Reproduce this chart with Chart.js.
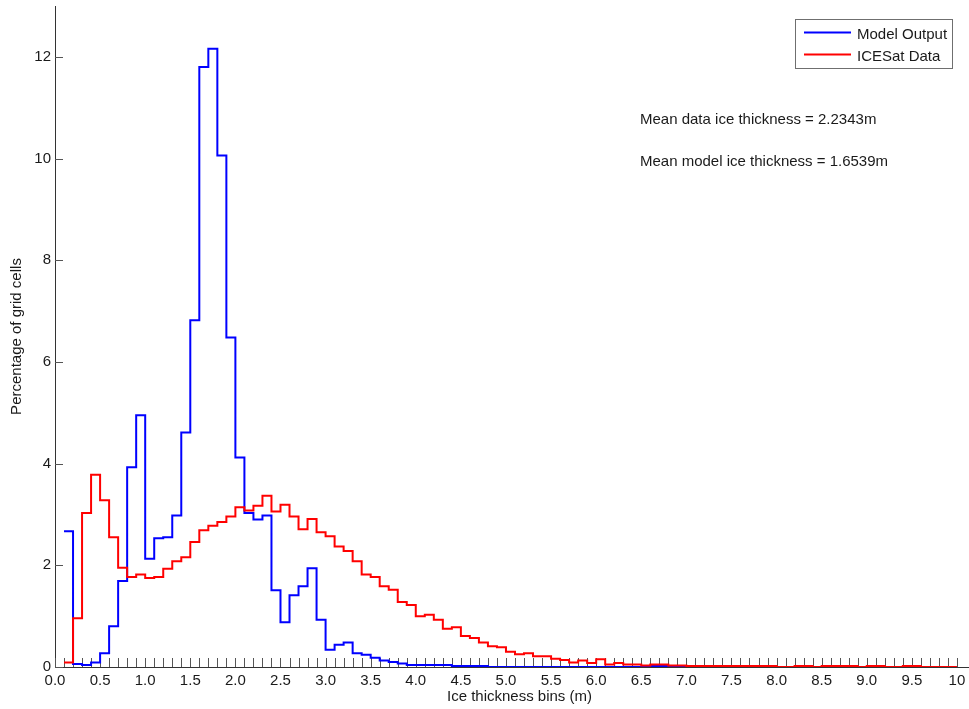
<!DOCTYPE html>
<html><head><meta charset="utf-8">
<script src="https://cdn.jsdelivr.net/npm/chart.js@4/dist/chart.umd.min.js"></script>
<style>
html,body{margin:0;padding:0;background:#fff;overflow:hidden;}
#wrap{width:969px;height:709px;overflow:hidden;position:relative;background:#fff;}
canvas{display:block;}
</style></head><body>
<div id="wrap"><canvas id="c" width="990" height="709" style="width:990px;height:709px"></canvas></div>
<script>
// ---- data ----
const binStarts = Array.from({length: 100}, (_, i) => +((i + 1) * 0.1).toFixed(1));
const xTickLabels = ['0.0','0.5','1.0','1.5','2.0','2.5','3.0','3.5','4.0','4.5','5.0',
                     '5.5','6.0','6.5','7.0','7.5','8.0','8.5','9.0','9.5','10'];
const yTickValues = [0, 2, 4, 6, 8, 10, 12];
const seriesNames = ['Model Output', 'ICESat Data'];
const modelOutput = [
  2.67, 0.06, 0.04, 0.09, 0.27, 0.80, 1.69, 3.93, 4.95, 2.13,
  2.53, 2.55, 2.98, 4.61, 6.82, 11.80, 12.16, 10.06, 6.48, 4.12,
  3.03, 2.90, 2.98, 1.51, 0.88, 1.41, 1.59, 1.94, 0.93, 0.34,
  0.44, 0.48, 0.27, 0.24, 0.18, 0.13, 0.10, 0.07, 0.04, 0.04,
  0.04, 0.04, 0.04, 0.02, 0.02, 0.02, 0.02, 0, 0, 0,
  0, 0, 0, 0, 0, 0, 0, 0, 0, 0,
  0, 0, 0, 0, 0, 0.02, 0.02, 0, 0, 0,
  0, 0, 0, 0, 0, 0, 0, 0, 0, 0,
  0, 0, 0, 0, 0, 0, 0, 0, 0, 0,
  0, 0, 0, 0, 0, 0, 0, 0, 0, 0
];
const icesatData = [
  0.09, 0.96, 3.03, 3.78, 3.28, 2.55, 1.95, 1.77, 1.82, 1.75,
  1.77, 1.93, 2.08, 2.16, 2.46, 2.69, 2.78, 2.85, 2.96, 3.14,
  3.08, 3.17, 3.37, 3.06, 3.19, 2.96, 2.71, 2.91, 2.65, 2.57,
  2.37, 2.28, 2.08, 1.82, 1.77, 1.59, 1.52, 1.28, 1.22, 1.00,
  1.03, 0.93, 0.75, 0.78, 0.61, 0.57, 0.48, 0.41, 0.39, 0.30,
  0.25, 0.27, 0.21, 0.21, 0.16, 0.14, 0.09, 0.13, 0.08, 0.15,
  0.05, 0.08, 0.05, 0.05, 0.03, 0.05, 0.05, 0.03, 0.03, 0.02,
  0.02, 0.02, 0.02, 0.02, 0.02, 0.02, 0.02, 0.02, 0.02, 0,
  0, 0.02, 0.02, 0, 0.02, 0.02, 0.02, 0.02, 0, 0.02,
  0.02, 0, 0, 0.02, 0.02, 0, 0, 0, 0, 0
];
const meanNotes = ['Mean data ice thickness = 2.2343m', 'Mean model ice thickness = 1.6539m'];

// ---- styling ----
const FONT = "'Liberation Sans', Arial, Helvetica, sans-serif";
const TEXT = '#1a1a1a';
Chart.defaults.font.family = FONT;
Chart.defaults.font.size = 15;
Chart.defaults.color = TEXT;

const innerTicks = {
  id: 'innerTicks',
  beforeDatasetsDraw(chart) {
    const {ctx, chartArea, scales: {x, y}} = chart;
    ctx.save();
    ctx.strokeStyle = '#555';
    ctx.lineWidth = 1;
    ctx.beginPath();
    x.ticks.forEach(t => {
      const px = Math.round(x.getPixelForValue(t.value)) + 0.5;
      ctx.moveTo(px, chartArea.bottom);
      ctx.lineTo(px, chartArea.bottom - 9);
    });
    y.ticks.forEach(t => {
      const py = Math.round(y.getPixelForValue(t.value)) + 0.5;
      ctx.moveTo(chartArea.left, py);
      ctx.lineTo(chartArea.left + 8, py);
    });
    ctx.stroke();
    ctx.restore();
  }
};

const boxLegend = {
  id: 'boxLegend',
  afterDraw(chart) {
    const {ctx} = chart;
    const ds = chart.data.datasets;
    ctx.save();
    ctx.fillStyle = '#fff';
    ctx.fillRect(796, 20, 156, 48);
    ctx.strokeStyle = '#6f6f6f';
    ctx.lineWidth = 1;
    ctx.strokeRect(795.5, 19.5, 157, 49);
    const rows = [32.5, 54.5];
    ctx.font = '15px ' + FONT;
    ctx.textBaseline = 'alphabetic';
    ds.forEach((d, i) => {
      ctx.strokeStyle = d.borderColor;
      ctx.lineWidth = 2;
      ctx.beginPath();
      ctx.moveTo(804, rows[i]);
      ctx.lineTo(851, rows[i]);
      ctx.stroke();
      ctx.fillStyle = TEXT;
      ctx.fillText(d.label, 857, rows[i] + 6.5);
    });
    ctx.font = '15px ' + FONT;
    ctx.fillStyle = TEXT;
    ctx.fillText(meanNotes[0], 640, 123.5);
    ctx.fillText(meanNotes[1], 640, 165.5);
    ctx.restore();
  }
};

new Chart(document.getElementById('c'), {
  type: 'line',
  data: {
    datasets: [
      { label: seriesNames[0], data: binStarts.map((b, i) => ({x: b, y: modelOutput[i]})),
        borderColor: '#0000ff', backgroundColor: '#0000ff', borderWidth: 2, stepped: true,
        pointRadius: 0, fill: false, order: 1 },
      { label: seriesNames[1], data: binStarts.map((b, i) => ({x: b, y: icesatData[i]})),
        borderColor: '#ff0000', backgroundColor: '#ff0000', borderWidth: 2, stepped: true,
        pointRadius: 0, fill: false, order: 0 }
    ]
  },
  options: {
    responsive: false,
    animation: false,
    devicePixelRatio: 1,
    layout: { padding: { top: 6, right: 6, left: 0, bottom: 0 } },
    plugins: { legend: { display: false }, tooltip: { enabled: false } },
    scales: {
      x: {
        type: 'linear', min: 0, max: 10.3,
        grid: { display: false, drawTicks: false },
        border: { display: true, color: '#333', width: 1 },
        afterBuildTicks: s => {
          const t = [];
          for (let k = 0; k <= 100; k++) t.push({ value: k / 10 });
          s.ticks = t;
        },
        afterFit: s => { s.height = 42; s.paddingLeft = 0; s.paddingRight = 0; },
        ticks: {
          autoSkip: false, maxRotation: 0, minRotation: 0, padding: 5, color: TEXT,
          callback: v => {
            const k = Math.round(v * 10);
            return k % 5 === 0 ? xTickLabels[k / 5] : '';
          }
        },
        title: { display: true, text: 'Ice thickness bins (m)', color: TEXT,
                 padding: { top: 0, bottom: 3 } }
      },
      y: {
        type: 'linear', min: 0, max: 13,
        grid: { display: false, drawTicks: false },
        border: { display: true, color: '#333', width: 1 },
        afterBuildTicks: s => { s.ticks = yTickValues.map(v => ({ value: v })); },
        afterFit: s => { s.width = 55; s.paddingTop = 0; s.paddingBottom = 0; },
        ticks: { padding: 4, color: TEXT, callback: v => String(v) },
        title: { display: true, text: 'Percentage of grid cells', color: TEXT,
                 padding: { top: 8, bottom: 0 } }
      }
    }
  },
  plugins: [innerTicks, boxLegend]
});
</script>
</body></html>
